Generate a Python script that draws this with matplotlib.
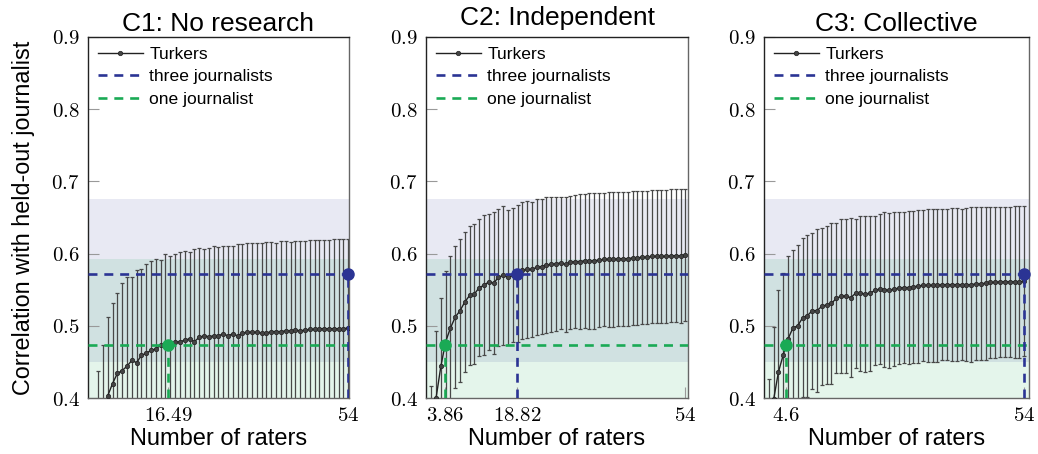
import matplotlib
matplotlib.use("Agg")
import matplotlib.pyplot as plt
import numpy as np

plt.rcParams['mathtext.fontset'] = 'cm'
plt.rcParams['font.family'] = ['Liberation Sans', 'DejaVu Sans']

raters = list(range(1, 55))

titles = ["C1: No research", "C2: Independent", "C3: Collective"]

c1_mean = [0.290, 0.335, 0.369, 0.403, 0.420, 0.434, 0.438, 0.444, 0.452, 0.449,
           0.459, 0.462, 0.466, 0.468, 0.473, 0.474, 0.475, 0.477, 0.478, 0.480,
           0.482, 0.478, 0.484, 0.486, 0.485, 0.486, 0.486, 0.489, 0.486, 0.489,
           0.486, 0.490, 0.491, 0.491, 0.491, 0.490, 0.490, 0.492, 0.492, 0.492,
           0.493, 0.493, 0.494, 0.493, 0.494, 0.495, 0.495, 0.496, 0.496, 0.496,
           0.496, 0.496, 0.496, 0.497]
c1_upper = [0.390, 0.438, 0.474, 0.512, 0.531, 0.545, 0.559, 0.567, 0.568, 0.577,
            0.578, 0.586, 0.590, 0.593, 0.591, 0.599, 0.596, 0.599, 0.602, 0.604,
            0.602, 0.606, 0.608, 0.607, 0.608, 0.610, 0.609, 0.611, 0.610, 0.610,
            0.613, 0.613, 0.615, 0.614, 0.614, 0.614, 0.616, 0.616, 0.615, 0.618,
            0.617, 0.616, 0.618, 0.618, 0.618, 0.619, 0.619, 0.619, 0.619, 0.619,
            0.620, 0.620, 0.620, 0.620]

c2_mean = [0.316, 0.400, 0.444, 0.478, 0.497, 0.512, 0.521, 0.533, 0.542, 0.544,
           0.553, 0.556, 0.561, 0.559, 0.567, 0.570, 0.567, 0.570, 0.573, 0.577,
           0.578, 0.578, 0.581, 0.582, 0.584, 0.585, 0.586, 0.587, 0.585, 0.588,
           0.589, 0.589, 0.590, 0.590, 0.590, 0.591, 0.592, 0.592, 0.592, 0.593,
           0.593, 0.593, 0.594, 0.594, 0.595, 0.595, 0.596, 0.596, 0.596, 0.596,
           0.597, 0.597, 0.597, 0.598]
c2_upper = [0.416, 0.493, 0.539, 0.576, 0.597, 0.610, 0.620, 0.630, 0.638, 0.641,
            0.648, 0.653, 0.655, 0.657, 0.662, 0.666, 0.660, 0.663, 0.668, 0.672,
            0.673, 0.672, 0.675, 0.676, 0.678, 0.678, 0.679, 0.679, 0.679, 0.680,
            0.681, 0.683, 0.683, 0.684, 0.684, 0.684, 0.684, 0.685, 0.685, 0.686,
            0.686, 0.686, 0.687, 0.687, 0.687, 0.687, 0.688, 0.688, 0.688, 0.688,
            0.689, 0.689, 0.690, 0.690]

c3_mean = [0.327, 0.398, 0.436, 0.460, 0.482, 0.497, 0.500, 0.511, 0.514, 0.521,
           0.521, 0.527, 0.529, 0.531, 0.538, 0.541, 0.541, 0.539, 0.545, 0.545,
           0.544, 0.545, 0.549, 0.551, 0.550, 0.549, 0.551, 0.552, 0.553, 0.553,
           0.554, 0.555, 0.556, 0.556, 0.556, 0.556, 0.557, 0.557, 0.557, 0.557,
           0.557, 0.557, 0.557, 0.558, 0.558, 0.559, 0.560, 0.560, 0.561, 0.561,
           0.561, 0.561, 0.561, 0.562]
c3_upper = [0.427, 0.499, 0.550, 0.573, 0.597, 0.605, 0.612, 0.621, 0.626, 0.629,
            0.634, 0.636, 0.638, 0.643, 0.642, 0.648, 0.648, 0.649, 0.648, 0.652,
            0.652, 0.652, 0.652, 0.655, 0.657, 0.656, 0.657, 0.657, 0.658, 0.659,
            0.659, 0.661, 0.661, 0.662, 0.662, 0.662, 0.662, 0.662, 0.663, 0.663,
            0.662, 0.663, 0.664, 0.664, 0.664, 0.665, 0.665, 0.665, 0.665, 0.665,
            0.665, 0.666, 0.666, 0.666]

three_journalists = 0.572
one_journalist = 0.473
three_band = (0.450, 0.676)
one_band = (0.354, 0.592)

one_cross = [16.49, 3.86, 4.6]
three_cross = [54, 18.82, 54]
xtick_vals = [[16.49, 54], [3.86, 18.82, 54], [4.6, 54]]
xtick_labels = [["16.49", "54"], ["3.86", "18.82", "54"], ["4.6", "54"]]
yticks = [0.4, 0.5, 0.6, 0.7, 0.8, 0.9]

means = [c1_mean, c2_mean, c3_mean]
uppers = [c1_upper, c2_upper, c3_upper]

BLUE = '#2b3494'
GREEN = '#1aaa55'

W, H = 1038, 454
fig = plt.figure(figsize=(W / 100, H / 100), dpi=100)

panels = [(88, 349, -0.1, 54.15), (426, 688, -0.1, 54.55), (764, 1029, 0.0, 55.0)]
top_px, bot_px = 37, 398

for i, (l, r, x0, x1) in enumerate(panels):
    ax = fig.add_axes([l / W, 1 - bot_px / H, (r - l) / W, (bot_px - top_px) / H])
    x = np.array(raters)
    m = np.array(means[i])
    err = np.array(uppers[i]) - m

    ax.axhspan(three_band[0], three_band[1], color=BLUE, alpha=0.105, lw=0, zorder=0)
    ax.axhspan(one_band[0], one_band[1], color=GREEN, alpha=0.115, lw=0, zorder=0)

    ax.errorbar(x, m, yerr=err, fmt='none', ecolor='#484848', elinewidth=0.9,
                capsize=1.6, capthick=0.9, zorder=2)
    ax.plot(x, m, '-', color='#222222', lw=1.0, marker='o', ms=3.2,
            mfc='#444444', mec='#222222', mew=0.5, zorder=3, label='Turkers')

    dash = (3.4, 2.6)
    lw_d = 1.9
    ax.axhline(three_journalists, color=BLUE, lw=lw_d, ls=(0, dash), zorder=4,
               label='three journalists')
    ax.axhline(one_journalist, color=GREEN, lw=lw_d, ls=(0, dash), zorder=4,
               label='one journalist')
    ax.plot([three_cross[i], three_cross[i]], [0.4, three_journalists], color=BLUE,
            lw=lw_d, ls=(0, dash), zorder=4)
    ax.plot([one_cross[i], one_cross[i]], [0.4, one_journalist], color=GREEN,
            lw=lw_d, ls=(0, dash), zorder=4)
    ax.plot([three_cross[i]], [three_journalists], 'o', color=BLUE, ms=8, zorder=6,
            clip_on=False)
    ax.plot([one_cross[i]], [one_journalist], 'o', color=GREEN, ms=8, zorder=6,
            clip_on=False)

    ax.set_xlim(x0, x1)
    ax.set_ylim(0.4, 0.9)
    ax.set_yticks(yticks)
    ax.set_yticklabels([r"$%.1f$" % v for v in yticks])
    ax.set_xticks(xtick_vals[i])
    ax.set_xticklabels([r"$%s$" % s for s in xtick_labels[i]])
    ax.tick_params(axis='both', direction='in', length=8, width=0.8, color='#999999',
                   labelsize=15, pad=6)
    ax.tick_params(axis='y', pad=6)
    for s in ax.spines.values():
        s.set_linewidth(1.0)
        s.set_color('#222222')
    ax.spines['bottom'].set_color('#666666')
    ax.spines['right'].set_color('#666666')

    ty = 1.018 if i == 1 else 1.0
    ax.set_title(titles[i], fontsize=19, y=ty, pad=4)
    ax.set_xlabel("Number of raters", fontsize=17, labelpad=2)
    if i == 0:
        ax.set_ylabel("Correlation with held-out journalist", fontsize=16.8, labelpad=12)

    leg = ax.legend(loc='upper left', frameon=False, fontsize=12.6, handlelength=2.6,
                    handletextpad=0.35, labelspacing=0.42, borderaxespad=0.25,
                    borderpad=0.3)
    leg.set_zorder(10)

fig.savefig("out.png", dpi=100)
